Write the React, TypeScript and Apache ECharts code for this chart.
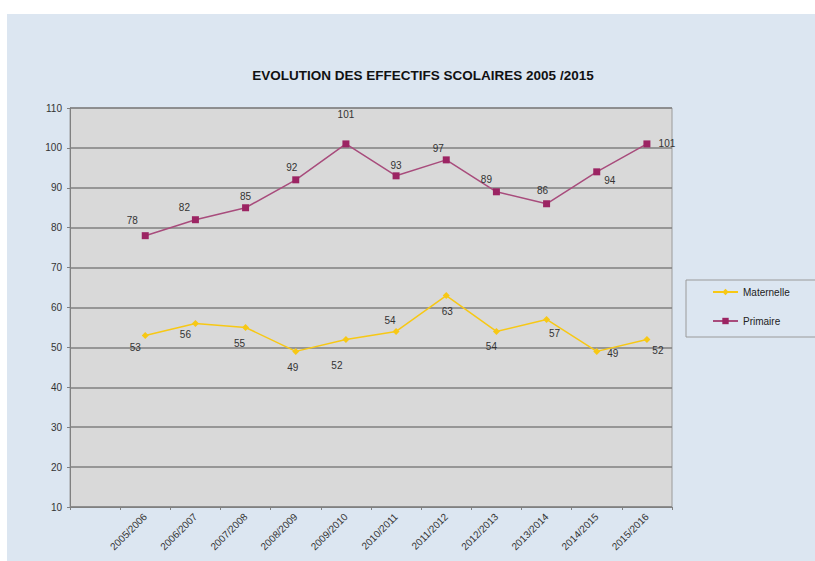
import React, { useEffect, useRef } from "react";
import * as echarts from "echarts";

const categories = [
  "2005/2006", "2006/2007", "2007/2008", "2008/2009", "2009/2010", "2010/2011",
  "2011/2012", "2012/2013", "2013/2014", "2014/2015", "2015/2016",
];
const maternelle = [53, 56, 55, 49, 52, 54, 63, 54, 57, 49, 52];
const primaire = [78, 82, 85, 92, 101, 93, 97, 89, 86, 94, 101];
const yTicks = { min: 10, max: 110, interval: 10 };

// label offsets (style only)
const primaireLabelOffsets = [
  [-13, -15], [-11, -12], [0, -11], [-4, -12], [0, -29], [0, -10],
  [-8, -11], [-10, -12], [-4, -13], [13, 9], [20, 0],
];
const maternelleLabelOffsets = [
  [-10, 12], [-10, 11], [-6, 16], [-3, 16], [-9, 26], [-6, -11],
  [1, 16], [-5, 15], [8, 14], [16, 2], [11, 11],
];

const FONT = "'Liberation Sans', Arial, sans-serif";

export default function App() {
  const ref = useRef<HTMLDivElement>(null);
  useEffect(() => {
    if (!ref.current) return;
    const chart = echarts.init(ref.current, undefined, { renderer: "svg" });
    const mkData = (vals: number[], offs: number[][]) => [
      "-",
      ...vals.map((v, i) => ({
        value: v,
        label: { show: true, position: "inside", offset: offs[i] },
      })),
    ];
    const labelStyle = { color: "#333", fontSize: 10, fontFamily: FONT };
    chart.setOption({
      animation: false,
      backgroundColor: "#ffffff",
      graphic: [
        {
          type: "rect",
          z: -10,
          shape: { x: 7, y: 14, width: 808, height: 547 },
          style: { fill: "#dce6f1" },
          silent: true,
        },
        {
          type: "rect",
          z: 0,
          shape: { x: 686, y: 280, width: 140, height: 57 },
          style: { fill: "#dce6f1", stroke: "#9a9a9a", lineWidth: 1 },
          silent: true,
        },
      ],
      title: {
        text: "EVOLUTION DES EFFECTIFS SCOLAIRES 2005 /2015",
        left: 418,
        textAlign: "center",
        top: 63,
        textStyle: { fontSize: 13.5, fontWeight: "bold", color: "#111", fontFamily: FONT },
      },
      legend: {
        orient: "vertical",
        left: 712,
        top: 287,
        padding: 0,
        itemGap: 19,
        itemWidth: 25,
        itemHeight: 8,
        z: 5,
        textStyle: { fontSize: 10, color: "#222", fontFamily: FONT },
        data: ["Maternelle", "Primaire"],
      },
      grid: {
        left: 70,
        top: 108,
        width: 602,
        height: 399,
        show: true,
        backgroundColor: "#d9d9d9",
        borderColor: "#9a9a9a",
        borderWidth: 1,
      },
      xAxis: {
        type: "category",
        data: ["", ...categories],
        boundaryGap: true,
        axisLine: { lineStyle: { color: "#808080", width: 1 } },
        axisTick: { show: true, interval: 0, length: 3, lineStyle: { color: "#808080" } },
        axisLabel: {
          interval: 0,
          rotate: 45,
          fontSize: 10,
          color: "#333",
          fontFamily: FONT,
          margin: 8,
        },
      },
      yAxis: {
        type: "value",
        min: yTicks.min,
        max: yTicks.max,
        interval: yTicks.interval,
        axisLine: { show: true, lineStyle: { color: "#808080", width: 1 } },
        axisTick: { show: true, length: 3, lineStyle: { color: "#808080" } },
        axisLabel: { fontSize: 10, color: "#333", fontFamily: FONT, margin: 8 },
        splitLine: { lineStyle: { color: "#7f7f7f", width: 1.5 } },
      },
      series: [
        {
          name: "Maternelle",
          type: "line",
          data: mkData(maternelle, maternelleLabelOffsets),
          symbol: "diamond",
          symbolSize: 7,
          itemStyle: { color: "#f7c815" },
          lineStyle: { color: "#f7c815", width: 1.5 },
          label: labelStyle,
          z: 3,
        },
        {
          name: "Primaire",
          type: "line",
          data: mkData(primaire, primaireLabelOffsets),
          symbol: "rect",
          symbolSize: 7,
          itemStyle: { color: "#9c2463" },
          lineStyle: { color: "#a84c7c", width: 1.5 },
          label: labelStyle,
          z: 3,
        },
      ],
    });
    return () => chart.dispose();
  }, []);
  return (
    <div style={{ position: "absolute", left: 0, top: 0, width: 815, height: 561 }}>
      <div ref={ref} style={{ width: 815, height: 561 }} />
    </div>
  );
}
